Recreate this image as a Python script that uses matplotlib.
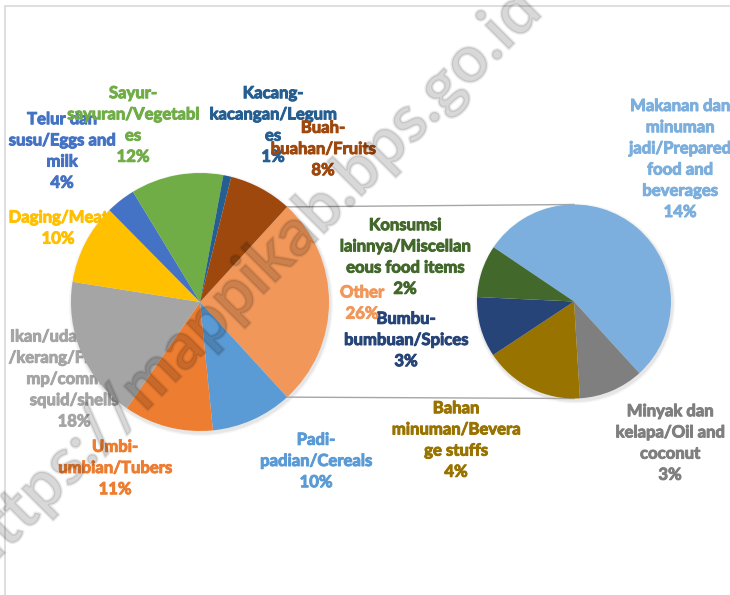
import matplotlib
matplotlib.use("Agg")
import matplotlib.pyplot as plt
import matplotlib.patheffects as pe
import numpy as np
from matplotlib.patches import Circle, Rectangle

#DATOS

#pie principal (orden de Excel, empezando por "Other")
main_labels = [
    "Padi-\npadian/Cereals",
    "Umbi-\numbian/Tubers",
    "Ikan/udang/cumi\n/kerang/Fish/shri\nmp/common\nsquid/shells",
    "Daging/Meat",
    "Telur dan\nsusu/Eggs and\nmilk",
    "Sayur-\nsayuran/Vegetabl\nes",
    "Kacang-\nkacangan/Legum\nes",
    "Buah-\nbuahan/Fruits",
]
main_values = [10.2, 11.2, 17.9, 10.1, 3.7, 11.6, 1.0, 7.9]
main_colors = ["#5B9BD5", "#ED7D31", "#A5A5A5", "#FFC000",
               "#4472C4", "#70AD47", "#255E91", "#9E480E"]

#pie secundario (desglose de "Other")
sub_labels = [
    "Makanan dan\nminuman\njadi/Prepared\nfood and\nbeverages",
    "Minyak dan\nkelapa/Oil and\ncoconut",
    "Bahan\nminuman/Bevera\nge stuffs",
    "Bumbu-\nbumbuan/Spices",
    "Konsumsi\nlainnya/Miscellan\neous food items",
]
sub_values = [14.2, 2.85, 4.4, 2.65, 2.3]
sub_colors = ["#7CAFDD", "#7F7F7F", "#997300", "#264478", "#43682B"]

other_label = "Other"
other_color = "#F1975A"
other_value = sum(sub_values)

#posiciones de las etiquetas en pixeles (x, y desde arriba)
main_label_pos = [(316, 461), (115, 468), (74, 379), (58, 228),
                  (62, 151), (133, 125), (273, 125), (323, 149)]
sub_label_pos = [(680, 159), (670, 443), (456, 440), (406, 340), (405, 257)]
other_label_pos = (362, 303)

#CONFIGURACION
W, H = 730, 595
MAIN_C, MAIN_R = (200, 302), 129
SUB_C, SUB_R = (574, 301.5), 97
SUB_START = 146
FONT = "Lato"
FS = 12


def px(x, y):
    #pasamos de coordenadas de pixel (y hacia abajo) a datos
    return x, H - y


def soft_shadow(ax, center, r):
    for k, a in [(3.0, 0.04), (1.5, 0.06)]:
        ax.add_patch(Circle((center[0] + 1, center[1] - 2), r + k,
                            facecolor="black", alpha=a, lw=0, zorder=1.5))


fig = plt.figure(figsize=(W / 100, H / 100), dpi=100)
ax = fig.add_axes([0, 0, 1, 1])

#pie principal: "Other" centrado a la derecha
values = [other_value] + main_values
colors = [other_color] + main_colors
start = 180 * other_value / sum(values)
mc = px(*MAIN_C)
soft_shadow(ax, mc, MAIN_R)
ax.pie(values, colors=colors, startangle=start, counterclock=False,
       center=mc, radius=MAIN_R, wedgeprops={"linewidth": 0, "zorder": 2})

#pie secundario
sc = px(*SUB_C)
soft_shadow(ax, sc, SUB_R)
ax.pie(sub_values, colors=sub_colors, startangle=SUB_START, counterclock=False,
       center=sc, radius=SUB_R, wedgeprops={"linewidth": 0, "zorder": 2})

#lineas de conexion
theta = np.deg2rad(start)
for sign in (1, -1):
    x0 = mc[0] + MAIN_R * np.cos(theta)
    y0 = mc[1] + sign * MAIN_R * np.sin(theta)
    ax.plot([x0, sc[0]], [y0, sc[1] + sign * SUB_R], color="#A6A6A6",
            lw=1, zorder=1.8)

#etiquetas (con un trazo fino para que parezcan negrita)
total = sum(values)
def label(txt, v, pos, color):
    x, y = px(*pos)
    ax.text(x, y, f"{txt}\n{round(100 * v / total)}%", ha="center",
            va="center", color=color, fontsize=FS, fontweight="bold",
            family=FONT, linespacing=1.4, zorder=1,
            path_effects=[pe.withStroke(linewidth=0.7, foreground=color)])

for t, v, p, c in zip(main_labels, main_values, main_label_pos, main_colors):
    label(t, v, p, c)
for t, v, p, c in zip(sub_labels, sub_values, sub_label_pos, sub_colors):
    label(t, v, p, c)
label(other_label, other_value, other_label_pos, other_color)

#marca de agua (trazo + relleno se suman, por eso el alpha es bajo)
wm_alpha = 0.08
wx, wy = px(250, 282)
ax.text(wx, wy, "https://mappikab.bps.go.id", rotation=45, ha="center",
        va="center", rotation_mode="anchor", fontsize=47.5, fontweight="bold",
        family=FONT, color="black", alpha=wm_alpha, zorder=5,
        path_effects=[pe.withStroke(linewidth=2, foreground="black",
                                    alpha=wm_alpha)])

#borde del area del grafico
bx, by = px(5, 6)
ax.add_patch(Rectangle((bx, -10), W, by + 10, fill=False,
                       edgecolor="#D9D9D9", lw=1.2, zorder=0))

ax.set_xlim(0, W)
ax.set_ylim(0, H)
ax.set_aspect("equal")
ax.axis("off")
fig.savefig("out.png", dpi=100)
